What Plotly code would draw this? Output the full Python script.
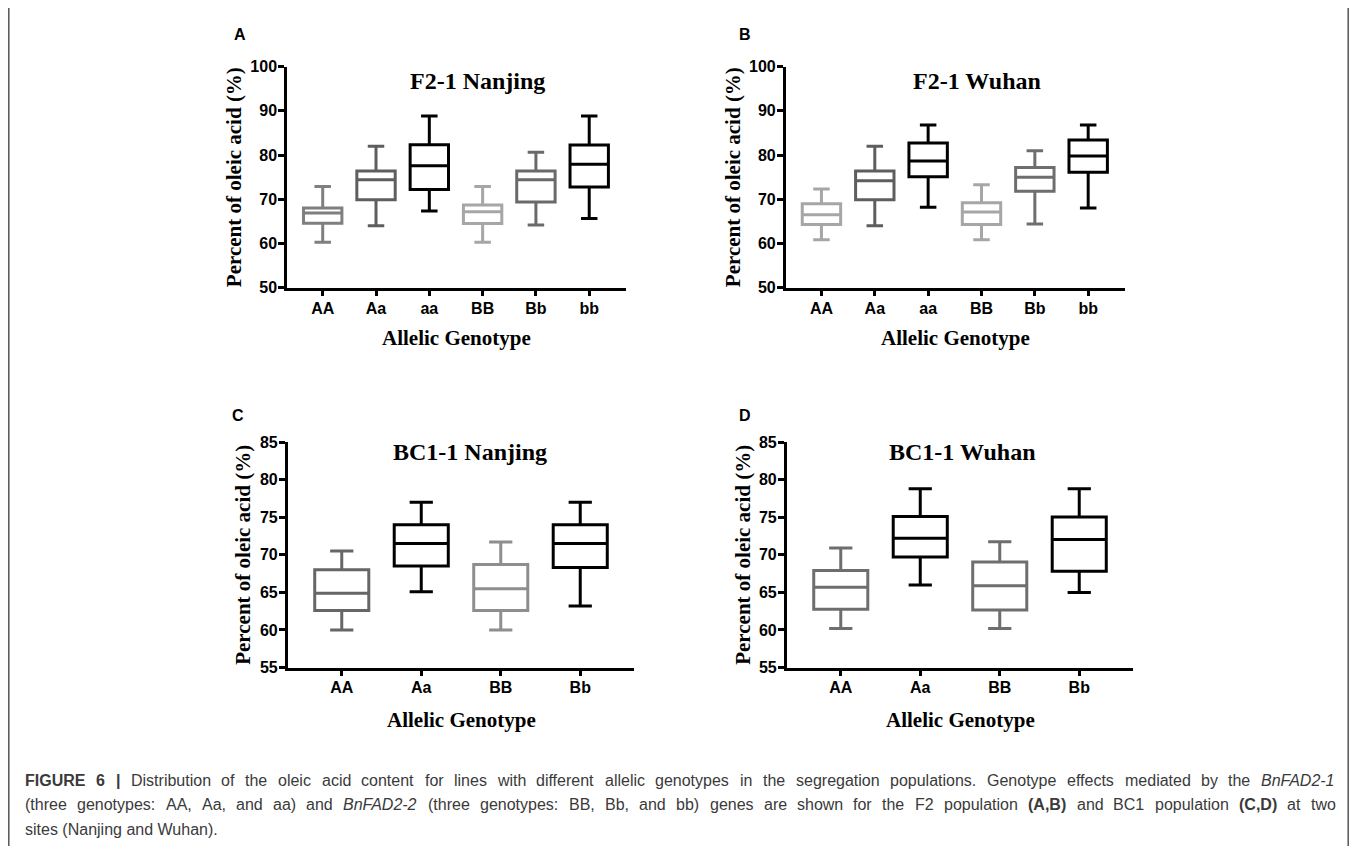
import plotly.graph_objects as go

# Page is 1357x862. The figure sits at an offset inside the page
# (measured from previous renders), so reference positions are shifted.
PAGE_W, PAGE_H = 1357, 862
OFF_X, OFF_Y = 8, 16
FW, FH = PAGE_W - 2 * OFF_X, PAGE_H - OFF_Y - 8

# ---------------- data ----------------
cats_f2 = ["AA", "Aa", "aa", "BB", "Bb", "bb"]
cats_bc = ["AA", "Aa", "BB", "Bb"]

# Panel A: F2-1 Nanjing
a_low = [60.3, 64.0, 67.35, 60.3, 64.2, 65.65]
a_q1 = [64.6, 69.9, 72.2, 64.5, 69.4, 72.75]
a_med = [66.9, 74.4, 77.6, 67.2, 74.4, 77.9]
a_q3 = [68.0, 76.4, 82.35, 68.7, 76.4, 82.3]
a_high = [72.9, 82.0, 88.85, 72.9, 80.65, 88.85]

# Panel B: F2-1 Wuhan
b_low = [60.85, 64.0, 68.2, 60.85, 64.4, 68.0]
b_q1 = [64.3, 69.9, 75.1, 64.3, 71.8, 76.1]
b_med = [66.5, 74.2, 78.65, 67.1, 75.0, 79.8]
b_q3 = [69.0, 76.4, 82.7, 69.2, 77.2, 83.4]
b_high = [72.3, 82.0, 86.8, 73.3, 80.95, 86.8]

# Panel C: BC1-1 Nanjing
c_low = [60.0, 65.1, 60.0, 63.2]
c_q1 = [62.6, 68.5, 62.6, 68.3]
c_med = [64.9, 71.5, 65.5, 71.5]
c_q3 = [68.0, 74.0, 68.7, 74.0]
c_high = [70.5, 77.0, 71.7, 77.0]

# Panel D: BC1-1 Wuhan
d_low = [60.2, 66.0, 60.2, 65.0]
d_q1 = [62.75, 69.7, 62.65, 67.8]
d_med = [65.7, 72.2, 65.9, 72.05]
d_q3 = [67.9, 75.1, 69.05, 75.05]
d_high = [70.9, 78.8, 71.75, 78.8]

f2_ticks = [50, 60, 70, 80, 90, 100]
bc_ticks = [55, 60, 65, 70, 75, 80, 85]

titles = ["F2-1 Nanjing", "F2-1 Wuhan", "BC1-1 Nanjing", "BC1-1 Wuhan"]
letters = ["A", "B", "C", "D"]
ytitle = "Percent of oleic acid (%)"
xtitle = "Allelic Genotype"

# caption words: (text, style) with style "" / "b" / "i"
caption_line1 = [("FIGURE", "b"), ("6", "b"), ("|", "b")] + [
    (w, "") for w in "Distribution of the oleic acid content for lines with different allelic genotypes in the segregation populations. Genotype effects mediated by the".split()
] + [("BnFAD2-1", "i")]
caption_line2 = [(w, "") for w in "(three genotypes: AA, Aa, and aa) and".split()] + [("BnFAD2-2", "i")] + [
    (w, "") for w in "(three genotypes: BB, Bb, and bb) genes are shown for the F2 population".split()
] + [("(A,B)", "b")] + [(w, "") for w in "and BC1 population".split()] + [("(C,D)", "b"), ("at", ""), ("two", "")]
caption_line3 = "sites (Nanjing and Wuhan)."

# ---------------- styling ----------------
cols_a = ["#7f7f7f", "#5e5e5e", "#000000", "#a6a6a6", "#6a6a6a", "#000000"]
cols_b = ["#a6a6a6", "#5e5e5e", "#000000", "#a6a6a6", "#6e6e6e", "#000000"]
cols_c = ["#666666", "#000000", "#8e8e8e", "#000000"]
cols_d = ["#6e6e6e", "#000000", "#6e6e6e", "#000000"]

SERIF = "Liberation Serif, Times New Roman, serif"
SANS = "Liberation Sans, Arial, sans-serif"


def px(x):
    return (x - OFF_X) / FW


def py(y):
    return 1 - (y - OFF_Y) / FH


# Arial / Liberation Sans advance widths (1/1000 em) for caption justification
_REG_LOW = dict(zip("abcdefghijklmnopqrstuvwxyz",
                    [556, 556, 500, 556, 556, 278, 556, 556, 222, 222, 500, 222, 833,
                     556, 556, 556, 556, 333, 500, 278, 556, 500, 722, 500, 500, 500]))
_REG_UP = dict(zip("ABCDEFGHIJKLMNOPQRSTUVWXYZ",
                   [667, 667, 722, 722, 667, 611, 778, 722, 278, 500, 667, 556, 833,
                    722, 778, 667, 778, 722, 667, 611, 722, 667, 944, 667, 667, 611]))
_BOLD_LOW = dict(zip("abcdefghijklmnopqrstuvwxyz",
                     [556, 611, 556, 611, 556, 333, 611, 611, 278, 278, 556, 278, 889,
                      611, 611, 611, 611, 389, 556, 333, 611, 556, 778, 556, 556, 500]))
_BOLD_UP = dict(zip("ABCDEFGHIJKLMNOPQRSTUVWXYZ",
                    [722, 722, 722, 722, 667, 611, 778, 722, 278, 556, 722, 611, 833,
                     722, 778, 667, 778, 722, 667, 611, 722, 667, 944, 667, 667, 611]))
_REG = {**_REG_LOW, **_REG_UP, **{d: 556 for d in "0123456789"},
        " ": 278, "(": 333, ")": 333, ",": 278, "-": 333, ".": 278, ":": 278, "|": 260}
_BOLD = {**_BOLD_LOW, **_BOLD_UP, **{d: 556 for d in "0123456789"},
         " ": 278, "(": 333, ")": 333, ",": 278, "-": 333, ".": 278, ":": 333, "|": 280}


def text_w(s, style, size):
    tab = _BOLD if style == "b" else _REG
    return sum(tab.get(ch, 556) for ch in s) * size / 1000.0


fig = go.Figure()

panels = [
    dict(cats=cats_f2, stats=(a_low, a_q1, a_med, a_q3, a_high), cols=cols_a,
         xd=(287, 626), yd=(67.7, 293.3), yr=(50, 100), ticks=f2_ticks, bw=0.72,
         xr=(-0.67, 5.69), title_xy=(477, 82), letter_xy=(240, 35),
         yt_x=234, xt_y=345),
    dict(cats=cats_f2, stats=(b_low, b_q1, b_med, b_q3, b_high), cols=cols_b,
         xd=(785.7, 1125), yd=(67.7, 293.3), yr=(50, 100), ticks=f2_ticks, bw=0.72,
         xr=(-0.67, 5.69), title_xy=(977, 82), letter_xy=(745, 35),
         yt_x=733, xt_y=345),
    dict(cats=cats_bc, stats=(c_low, c_q1, c_med, c_q3, c_high), cols=cols_c,
         xd=(287.7, 634.3), yd=(451, 681), yr=(55, 85), ticks=bc_ticks, bw=0.68,
         xr=(-0.68, 3.68), title_xy=(470, 461), letter_xy=(238, 424),
         yt_x=243, xt_y=735),
    dict(cats=cats_bc, stats=(d_low, d_q1, d_med, d_q3, d_high), cols=cols_d,
         xd=(786.7, 1133.3), yd=(451, 681), yr=(55, 85), ticks=bc_ticks, bw=0.68,
         xr=(-0.68, 3.68), title_xy=(962, 461), letter_xy=(745, 424),
         yt_x=743, xt_y=735),
]

annotations = []
layout_axes = {}
for i, p in enumerate(panels):
    n = i + 1
    xa = "x" if n == 1 else f"x{n}"
    ya = "y" if n == 1 else f"y{n}"
    low, q1, med, q3, high = p["stats"]
    for j, cat in enumerate(p["cats"]):
        fig.add_trace(go.Box(
            x=[cat], lowerfence=[low[j]], q1=[q1[j]], median=[med[j]],
            q3=[q3[j]], upperfence=[high[j]],
            width=p["bw"], whiskerwidth=0.43,
            fillcolor="white", line=dict(color=p["cols"][j], width=3),
            boxpoints=False, showlegend=False, hoverinfo="skip",
            xaxis=xa, yaxis=ya,
        ))
    layout_axes[f"xaxis{n if n > 1 else ''}"] = dict(
        domain=[px(p["xd"][0]), px(p["xd"][1])], anchor=ya,
        type="category", categoryorder="array", categoryarray=p["cats"],
        range=list(p["xr"]), showline=True, linecolor="black", linewidth=2.5,
        ticks="outside", ticklen=6, tickwidth=2.5, tickcolor="black",
        showgrid=False, zeroline=False, fixedrange=True, ticklabelstandoff=-2,
        tickfont=dict(family=SANS, size=16, color="black", weight="bold"),
    )
    layout_axes[f"yaxis{n if n > 1 else ''}"] = dict(
        domain=[py(p["yd"][1]), py(p["yd"][0])], anchor=xa,
        range=list(p["yr"]), tickvals=p["ticks"],
        ticktext=[str(t) for t in p["ticks"]],
        showline=True, linecolor="black", linewidth=2.5,
        ticks="outside", ticklen=6, tickwidth=2.5, tickcolor="black",
        showgrid=False, zeroline=False, fixedrange=True, ticklabelstandoff=-2,
        tickfont=dict(family=SANS, size=16, color="black", weight="bold"),
    )
    annotations.append(dict(
        text=titles[i], x=px(p["title_xy"][0]), y=py(p["title_xy"][1]),
        xref="paper", yref="paper", showarrow=False, xanchor="center", yanchor="middle",
        font=dict(family=SERIF, size=24, color="black", weight="bold")))
    annotations.append(dict(
        text=letters[i], x=px(p["letter_xy"][0]), y=py(p["letter_xy"][1]),
        xref="paper", yref="paper", showarrow=False, xanchor="center", yanchor="middle",
        font=dict(family=SANS, size=16, color="black", weight="bold")))
    annotations.append(dict(
        text=ytitle, x=px(p["yt_x"]), y=py((p["yd"][0] + p["yd"][1]) / 2),
        xref="paper", yref="paper", showarrow=False, textangle=-90,
        xanchor="center", yanchor="middle",
        font=dict(family=SERIF, size=21, color="black", weight="bold")))
    annotations.append(dict(
        text=xtitle, x=px((p["xd"][0] + p["xd"][1]) / 2), y=py(p["xt_y"]),
        xref="paper", yref="paper", showarrow=False, xanchor="center", yanchor="middle",
        font=dict(family=SERIF, size=21, color="black", weight="bold")))

# ---- justified caption (each word placed so the line spans the full width) ----
CAP_X0, CAP_X1 = 25, 1336
CAP_Y = [796, 821, 846]
CAP_COLOR = "#3a3a3a"
# font size chosen so the first line fits the width with ordinary word spacing
_em = sum(text_w(w, s, 1.0) for w, s in caption_line1) + (len(caption_line1) - 1) * 0.278
CAP_SIZE = min(16.0, (CAP_X1 - CAP_X0 - 4) / _em)


def wrap(word, style):
    if style == "b":
        return f"<b>{word}</b>"
    if style == "i":
        return f"<i>{word}</i>"
    return word


for line, yv in ((caption_line1, CAP_Y[0]), (caption_line2, CAP_Y[1])):
    widths = [text_w(w, s, CAP_SIZE) for w, s in line]
    gap = (CAP_X1 - CAP_X0 - sum(widths)) / (len(line) - 1)
    xcur = CAP_X0
    for (w, s), wd in zip(line, widths):
        annotations.append(dict(
            text=wrap(w, s), x=px(xcur), y=py(yv), xref="paper", yref="paper",
            showarrow=False, xanchor="left", yanchor="middle", align="left",
            borderpad=0, borderwidth=0,
            font=dict(family=SANS, size=CAP_SIZE, color=CAP_COLOR)))
        xcur += wd + gap

annotations.append(dict(
    text=caption_line3, x=px(CAP_X0), y=py(CAP_Y[2]), xref="paper", yref="paper",
    showarrow=False, xanchor="left", yanchor="middle", align="left",
    borderpad=0, borderwidth=0,
    font=dict(family=SANS, size=CAP_SIZE, color=CAP_COLOR)))

# frame: left and right edges of the figure border (right edge kept inside the page)
frame = [
    dict(type="line", xref="paper", yref="paper", x0=px(8.8), x1=px(8.8), y0=-0.05, y1=1.05,
         line=dict(color="#555555", width=1.5)),
    dict(type="line", xref="paper", yref="paper", x0=1 - 0.8 / FW, x1=1 - 0.8 / FW,
         y0=-0.05, y1=1.05, line=dict(color="#555555", width=1.5)),
]

fig.update_layout(
    width=FW, height=FH, margin=dict(l=0, r=0, t=0, b=0),
    paper_bgcolor="white", plot_bgcolor="white",
    annotations=annotations,
    shapes=frame,
    **layout_axes,
)

fig.write_html("out.html")
